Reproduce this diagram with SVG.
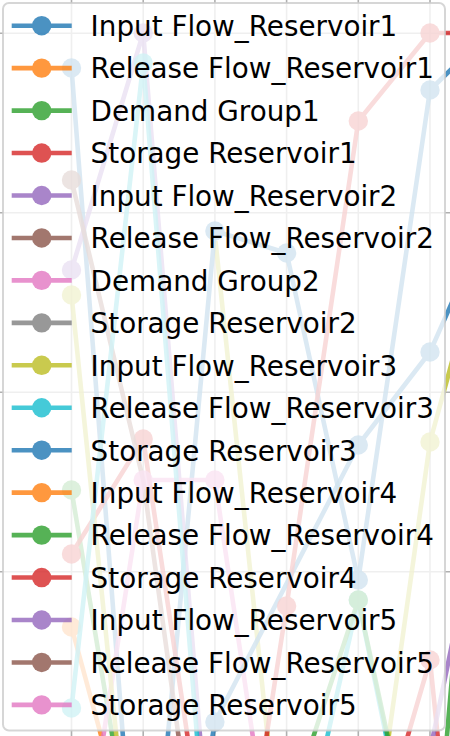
<svg xmlns="http://www.w3.org/2000/svg" width="450" height="736" viewBox="0 0 450 736">
<style>
.grid line{stroke:#b0b0b0;stroke-width:1.6}
.ser{opacity:0.8}
.ser polyline,.ser path,.h line{fill:none;stroke-width:4.6;stroke-linejoin:round}
.ser circle,.h circle{stroke:none}
.h{opacity:0.8}
.c0{stroke:#1f77b4;fill:#1f77b4}
.c1{stroke:#ff7f0e;fill:#ff7f0e}
.c2{stroke:#2ca02c;fill:#2ca02c}
.c3{stroke:#d62728;fill:#d62728}
.c4{stroke:#9467bd;fill:#9467bd}
.c5{stroke:#8c564b;fill:#8c564b}
.c6{stroke:#e377c2;fill:#e377c2}
.c7{stroke:#7f7f7f;fill:#7f7f7f}
.c8{stroke:#bcbd22;fill:#bcbd22}
.c9{stroke:#17becf;fill:#17becf}
.lbl{font-family:"DejaVu Sans","Liberation Sans",sans-serif;font-size:27.8px;fill:#000}
.frame{fill:#ffffff;fill-opacity:0.8;stroke:#cccccc;stroke-opacity:0.8;stroke-width:2}
</style>
<rect x="0" y="0" width="450" height="736" fill="#ffffff"/>
<g id="grid" class="grid">
<line x1="71.5" y1="0" x2="71.5" y2="736"/>
<line x1="143.2" y1="0" x2="143.2" y2="736"/>
<line x1="214.9" y1="0" x2="214.9" y2="736"/>
<line x1="286.6" y1="0" x2="286.6" y2="736"/>
<line x1="358.3" y1="0" x2="358.3" y2="736"/>
<line x1="430" y1="0" x2="430" y2="736"/>
<line x1="0" y1="33.3" x2="450" y2="33.3"/>
<line x1="0" y1="212.8" x2="450" y2="212.8"/>
<line x1="0" y1="392.3" x2="450" y2="392.3"/>
<line x1="0" y1="571.8" x2="450" y2="571.8"/>
</g>
<g id="connectors">
<g class="ser c8" id="series-input-r3-b">
<path d="M215.5,241 L286.6,917 L358.3,953 L430,442 L501.7,180"/>
<circle cx="430" cy="442" r="9.7"/>
</g>
<g class="ser c0" id="series-input-r1">
<polyline points="71.5,68 143.2,1000 214.9,231 286.6,253 358.3,580 430,90 501.7,20"/>
<circle cx="71.5" cy="68" r="9.7"/><circle cx="214.9" cy="231" r="9.7"/><circle cx="286.6" cy="253" r="9.7"/><circle cx="358.3" cy="580" r="9.7"/><circle cx="430" cy="90" r="9.7"/>
</g>
<g class="ser c1" id="series-release-r1">
<polyline points="71.5,627 143.2,890 214.9,1100"/>
<circle cx="71.5" cy="627" r="9.7"/>
</g>
<g class="ser c2" id="series-demand-g1">
<polyline points="71.5,490 143.2,922"/>
<circle cx="71.5" cy="490" r="9.7"/>
</g>
<g class="ser c3" id="series-storage-r1">
<polyline points="71.5,554 143.2,439 214.9,920 286.6,1000 358.3,905 430,660 501.7,1370"/>
<circle cx="71.5" cy="554" r="9.7"/><circle cx="143.2" cy="439" r="9.7"/><circle cx="430" cy="660" r="9.7"/>
</g>
<g class="ser c4" id="series-input-r2">
<polyline points="71.5,270 143.2,33 214.9,920"/>
<circle cx="71.5" cy="270" r="9.7"/><circle cx="143.2" cy="33" r="9.7"/>
</g>
<g class="ser c5" id="series-release-r2">
<polyline points="71.5,180 143.2,480 214.9,1000"/>
<circle cx="71.5" cy="180" r="9.7"/>
</g>
<g class="ser c6" id="series-demand-g2">
<polyline points="71.5,941 143.2,480 214.9,480 286.6,965"/>
<circle cx="143.2" cy="480" r="9.7"/><circle cx="214.9" cy="480" r="9.7"/>
</g>
<g class="ser c8" id="series-input-r3">
<polyline points="71.5,295 143.2,1000"/>
<circle cx="71.5" cy="295" r="9.7"/>
</g>
<g class="ser c9" id="series-release-r3">
<polyline points="71.5,708 143.2,63 214.9,960 286.6,916 358.3,600 430,950"/>
<circle cx="71.5" cy="708" r="9.7"/><circle cx="143.2" cy="63" r="9.7"/><circle cx="358.3" cy="600" r="9.7"/>
</g>
<g class="ser c0" id="series-storage-r3">
<polyline points="143.2,1150 214.9,722 358.3,445 430,352 501.7,190"/>
<circle cx="214.9" cy="722" r="9.7"/><circle cx="358.3" cy="445" r="9.7"/><circle cx="430" cy="352" r="9.7"/>
</g>
<g class="ser c2" id="series-release-r4">
<polyline points="286.6,818 358.3,600 430,933 501.7,100"/>
<circle cx="358.3" cy="600" r="9.7"/>
</g>
<g class="ser c3" id="series-storage-r4">
<polyline points="214.9,1070 286.6,606 358.3,121 430,33 501.7,33"/>
<circle cx="286.6" cy="606" r="9.7"/><circle cx="358.3" cy="121" r="9.7"/><circle cx="430" cy="33" r="9.7"/>
</g>
<g class="ser c4" id="series-input-r5">
<polyline points="358.3,1100 430,751 501.7,403"/>
</g>
</g>
<rect id="legend-frame" class="frame" x="3" y="3" width="442" height="727.5" rx="6"/>
<g id="legend">
<g id="entry-1"><g class="h c0"><line x1="11.7" y1="25.7" x2="71.7" y2="25.7"/><circle cx="41.7" cy="25.7" r="9.7"/></g><text class="lbl" x="90.6" y="36">Input Flow_Reservoir1</text></g>
<g id="entry-2"><g class="h c1"><line x1="11.7" y1="68.15" x2="71.7" y2="68.15"/><circle cx="41.7" cy="68.15" r="9.7"/></g><text class="lbl" x="90.6" y="78.45">Release Flow_Reservoir1</text></g>
<g id="entry-3"><g class="h c2"><line x1="11.7" y1="110.6" x2="71.7" y2="110.6"/><circle cx="41.7" cy="110.6" r="9.7"/></g><text class="lbl" x="90.6" y="120.9">Demand Group1</text></g>
<g id="entry-4"><g class="h c3"><line x1="11.7" y1="153.05" x2="71.7" y2="153.05"/><circle cx="41.7" cy="153.05" r="9.7"/></g><text class="lbl" x="90.6" y="163.35">Storage Reservoir1</text></g>
<g id="entry-5"><g class="h c4"><line x1="11.7" y1="195.5" x2="71.7" y2="195.5"/><circle cx="41.7" cy="195.5" r="9.7"/></g><text class="lbl" x="90.6" y="205.8">Input Flow_Reservoir2</text></g>
<g id="entry-6"><g class="h c5"><line x1="11.7" y1="237.95" x2="71.7" y2="237.95"/><circle cx="41.7" cy="237.95" r="9.7"/></g><text class="lbl" x="90.6" y="248.25">Release Flow_Reservoir2</text></g>
<g id="entry-7"><g class="h c6"><line x1="11.7" y1="280.4" x2="71.7" y2="280.4"/><circle cx="41.7" cy="280.4" r="9.7"/></g><text class="lbl" x="90.6" y="290.7">Demand Group2</text></g>
<g id="entry-8"><g class="h c7"><line x1="11.7" y1="322.85" x2="71.7" y2="322.85"/><circle cx="41.7" cy="322.85" r="9.7"/></g><text class="lbl" x="90.6" y="333.15">Storage Reservoir2</text></g>
<g id="entry-9"><g class="h c8"><line x1="11.7" y1="365.3" x2="71.7" y2="365.3"/><circle cx="41.7" cy="365.3" r="9.7"/></g><text class="lbl" x="90.6" y="375.6">Input Flow_Reservoir3</text></g>
<g id="entry-10"><g class="h c9"><line x1="11.7" y1="407.75" x2="71.7" y2="407.75"/><circle cx="41.7" cy="407.75" r="9.7"/></g><text class="lbl" x="90.6" y="418.05">Release Flow_Reservoir3</text></g>
<g id="entry-11"><g class="h c0"><line x1="11.7" y1="450.2" x2="71.7" y2="450.2"/><circle cx="41.7" cy="450.2" r="9.7"/></g><text class="lbl" x="90.6" y="460.5">Storage Reservoir3</text></g>
<g id="entry-12"><g class="h c1"><line x1="11.7" y1="492.65" x2="71.7" y2="492.65"/><circle cx="41.7" cy="492.65" r="9.7"/></g><text class="lbl" x="90.6" y="502.95">Input Flow_Reservoir4</text></g>
<g id="entry-13"><g class="h c2"><line x1="11.7" y1="535.1" x2="71.7" y2="535.1"/><circle cx="41.7" cy="535.1" r="9.7"/></g><text class="lbl" x="90.6" y="545.4">Release Flow_Reservoir4</text></g>
<g id="entry-14"><g class="h c3"><line x1="11.7" y1="577.55" x2="71.7" y2="577.55"/><circle cx="41.7" cy="577.55" r="9.7"/></g><text class="lbl" x="90.6" y="587.85">Storage Reservoir4</text></g>
<g id="entry-15"><g class="h c4"><line x1="11.7" y1="620" x2="71.7" y2="620"/><circle cx="41.7" cy="620" r="9.7"/></g><text class="lbl" x="90.6" y="630.3">Input Flow_Reservoir5</text></g>
<g id="entry-16"><g class="h c5"><line x1="11.7" y1="662.45" x2="71.7" y2="662.45"/><circle cx="41.7" cy="662.45" r="9.7"/></g><text class="lbl" x="90.6" y="672.75">Release Flow_Reservoir5</text></g>
<g id="entry-17"><g class="h c6"><line x1="11.7" y1="704.9" x2="71.7" y2="704.9"/><circle cx="41.7" cy="704.9" r="9.7"/></g><text class="lbl" x="90.6" y="715.2">Storage Reservoir5</text></g>
</g>
</svg>
